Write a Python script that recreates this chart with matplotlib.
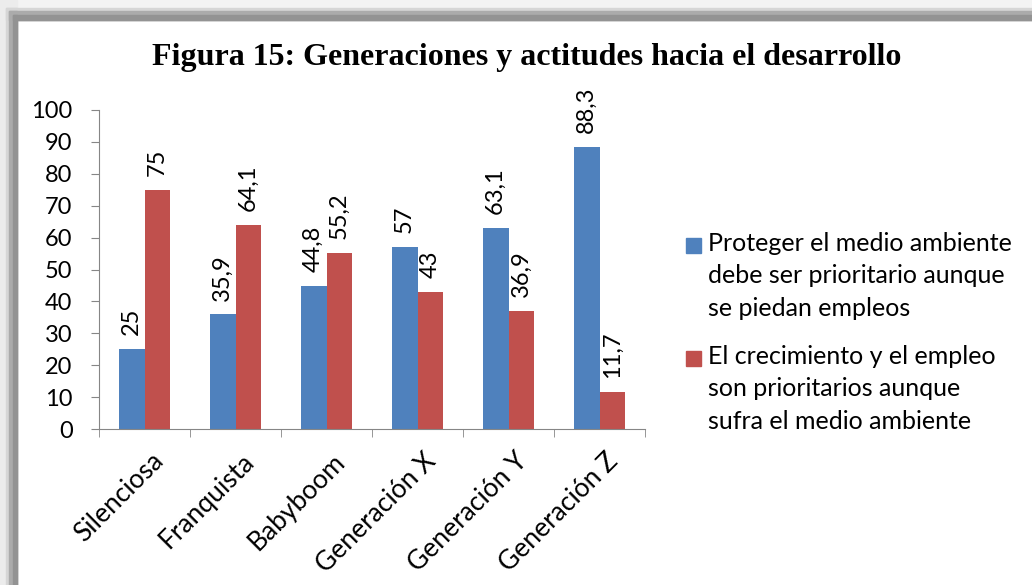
import numpy as np
import matplotlib.pyplot as plt
import matplotlib.transforms as mtransforms
from matplotlib.patches import Rectangle

# data
generaciones = ['Silenciosa', 'Franquista', 'Babyboom', 'Generación X', 'Generación Y', 'Generación Z']
proteger = [25, 35.9, 44.8, 57, 63.1, 88.3]
crecimiento = [75, 64.1, 55.2, 43, 36.9, 11.7]
series_names = ['Proteger el medio ambiente\ndebe ser prioritario aunque\nse piedan empleos',
                'El crecimiento y el empleo\nson prioritarios aunque\nsufra el medio ambiente']
colores = ['#4F81BD', '#C0504D']

plt.rcParams['font.family'] = ['Lato', 'DejaVu Sans']

W, H = 1032, 585
fig = plt.figure(figsize=(W / 100, H / 100), dpi=100)

# shadowed frame like the one around the excel chart
def band(x0, y0, w, h, c):
    fig.patches.append(Rectangle((x0 / W, 1 - (y0 + h) / H), w / W, h / H,
                                 transform=fig.transFigure, color=c, zorder=0))

band(0, 0, W, 20, '#f3f3f3')
band(0, 0, 17, H, '#ececec')
band(6, 8, W, 12, '#d6d6d6')
band(6, 8, 11, H, '#d6d6d6')
band(9, 11, W, 9, '#ababab')
band(9, 11, 8, H, '#ababab')
band(13, 15, W, 5, '#939393')
band(13, 15, 4, H, '#939393')

ax = fig.add_axes([99 / W, 1 - 429 / H, (645 - 99) / W, (429 - 110) / H])
ax.patch.set_alpha(0)

x = np.arange(len(generaciones))
bw = 0.285
b1 = ax.bar(x - bw / 2, proteger, bw, color=colores[0])
b2 = ax.bar(x + bw / 2, crecimiento, bw, color=colores[1])

def fmt(v):
    return ('%g' % v).replace('.', ',')

for bars, vals in ((b1, proteger), (b2, crecimiento)):
    for r, v in zip(bars, vals):
        ax.annotate(fmt(v), (r.get_x() + r.get_width() / 2, v), xytext=(0, 10),
                    textcoords='offset points', rotation=90, ha='center', va='bottom',
                    fontsize=17)

ax.set_xlim(-0.5, len(generaciones) - 0.5)
ax.set_ylim(0, 100)
ax.set_yticks(range(0, 101, 10))
ax.tick_params(axis='y', labelsize=17, color='#868686', length=6, pad=13)
ax.set_xticks(x)
ax.set_xticklabels(generaciones, rotation=45, ha='right', rotation_mode='anchor', fontsize=19)
ax.tick_params(axis='x', length=0, pad=14)
shift = mtransforms.ScaledTranslation(6 / 100, 0, fig.dpi_scale_trans)
for lab in ax.get_xticklabels():
    lab.set_transform(lab.get_transform() + shift)
ax.set_xticks(np.arange(-0.5, len(generaciones)), minor=True)
ax.tick_params(axis='x', which='minor', length=6, color='#868686')
for s in ['top', 'right']:
    ax.spines[s].set_visible(False)
for s in ['left', 'bottom']:
    ax.spines[s].set_color('#868686')

fig.text(527 / W, 1 - 58 / H, 'Figura 15: Generaciones y actitudes hacia el desarrollo',
         ha='center', va='center', fontsize=23, fontweight='bold',
         family=['Liberation Serif', 'DejaVu Serif'])

# legend drawn by hand so the square sits beside the first line, as in excel
for i, (name, c) in enumerate(zip(series_names, colores)):
    ytop = 238 + i * 113
    fig.patches.append(Rectangle((686 / W, 1 - (ytop + 15) / H), 15 / W, 15 / H,
                                 transform=fig.transFigure, color=c))
    fig.text(708 / W, 1 - (ytop - 6) / H, name, ha='left', va='top', fontsize=18,
             linespacing=1.5)

fig.savefig('out.png', dpi=100)
